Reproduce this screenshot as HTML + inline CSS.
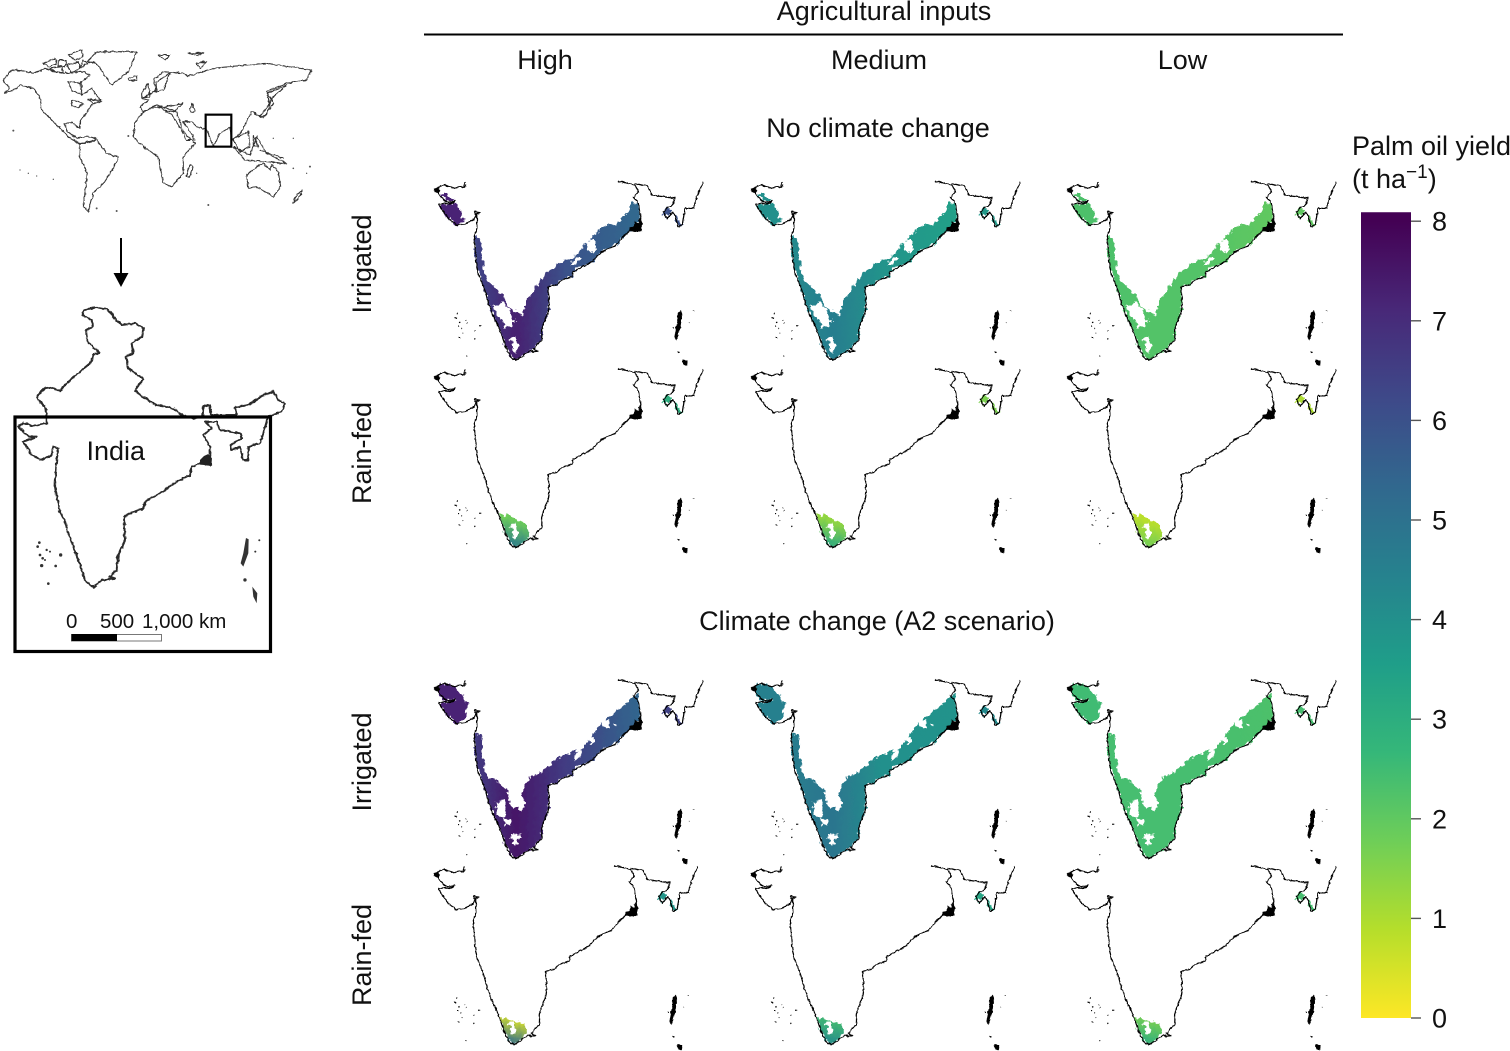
<!DOCTYPE html>
<html lang="en">
<head>
<meta charset="utf-8">
<title>Palm oil yield in India</title>
<style>
html,body{margin:0;padding:0;background:#fff;}
svg{display:block;font-family:"Liberation Sans",sans-serif;}
text{fill:#111;}
</style>
</head>
<body>
<svg id="fig" xmlns="http://www.w3.org/2000/svg" width="1510" height="1051" viewBox="0 0 1510 1051">
  <defs id="defs">
    <filter id="wiggle" x="-5%" y="-5%" width="110%" height="110%">
      <feTurbulence type="fractalNoise" baseFrequency="0.09" numOctaves="2" seed="4" result="n"/>
      <feDisplacementMap in="SourceGraphic" in2="n" scale="9" xChannelSelector="R" yChannelSelector="G" result="d"/>
      <feGaussianBlur in="d" stdDeviation="0.9"/>
    </filter>
    <filter id="rough" x="-5%" y="-5%" width="110%" height="110%">
      <feTurbulence type="fractalNoise" baseFrequency="0.07" numOctaves="3" seed="9" result="n"/>
      <feDisplacementMap in="SourceGraphic" in2="n" scale="22" xChannelSelector="R" yChannelSelector="G" result="d"/>
      <feGaussianBlur in="d" stdDeviation="1"/>
    </filter>
    <path id="coast" fill="none" stroke="#000" stroke-width="3.8" stroke-linejoin="round" d="M122,36 L118,52 L100,50 L88,55 L60,45 L45,48 L30,60 L40,70 L50,85 L70,97 L92,93 L75,102 L55,100 L42,103 L52,120 L70,145 L95,165 L120,162 L145,150 L152,135 L148,125 L165,128 L155,132 L157,170 L148,200 L150,240 L155,290 L165,325 L178,355 L190,400 L205,440 L225,480 L240,525 L255,558 L272,572 L295,555 L315,543 L338,545 L325,535 L350,510 L352,470 L368,430 L372,400 L370,350 L395,345 L410,330 L440,320 L445,305 L500,275 L530,245 L570,228 L590,205 L615,182 L650,180 L645,130 L640,100 L625,80 L640,65 L630,45 L580,33 M630,40 L670,50 L680,75 L750,85 L745,100 L715,125 L725,145 L745,125 L760,170 L772,165 L780,115 L805,115 L820,70 L835,35"/>
    <path id="islands" fill="#000" d="M38,52 L48,60 L40,70 L30,66 L26,58 Z M615,172 L625,170 L628,155 L640,158 L643,148 L652,160 L652,185 L615,184 Z M768,418 L771,440 L766,475 L754,512 L747,498 L756,460 L760,430 Z M770,570 L788,572 L786,590 L776,582 Z"/>
    <g id="atolls" fill="#000">
      <circle cx="92" cy="444" r="3"/><circle cx="97" cy="430" r="2"/><circle cx="104" cy="457" r="2.4"/><circle cx="100" cy="470" r="2.4"/><circle cx="122" cy="453" r="1.6"/><circle cx="128" cy="460" r="1.6"/><circle cx="110" cy="475" r="1.6"/><circle cx="115" cy="488" r="1.6"/><circle cx="150" cy="481" r="1.6"/><circle cx="165" cy="468" r="3"/><circle cx="103" cy="503" r="2.6"/><circle cx="148" cy="505" r="2"/><circle cx="125" cy="560" r="2"/><circle cx="805" cy="423" r="1.6"/><circle cx="793" cy="458" r="1.6"/><circle cx="745" cy="475" r="2"/><circle cx="760" cy="548" r="3"/>
    </g>
  </defs>

  <!-- Inset maps -->
  <g transform="translate(0,40) scale(0.3333)">
  <g fill="none" stroke="#333" stroke-width="3.2" stroke-linejoin="round" filter="url(#wiggle)">
    <path d="M10,122 L35,90 L65,92 L100,100 L135,85 L190,100 L250,95 L270,105 L240,130 L245,165 L275,145 L305,185 L275,195 L240,245 L240,265 L215,248 L195,250 L200,272 L230,295 L262,290 L290,295 L262,310 L238,312 L205,290 L165,250 L125,210 L120,170 L100,145 L60,135 L40,150 L12,160 L30,145 Z"/>
    <path d="M262,65 L290,35 L410,35 L385,95 L335,135 L310,100 L290,70 Z"/>
    <path d="M130,70 L165,55 L170,72 L145,80 Z M175,60 L200,60 L195,80 L175,78 Z M205,45 L245,30 L250,50 L225,60 Z M150,85 L185,80 L190,98 L160,95 Z M200,75 L235,65 L240,85 L215,100 Z M205,125 L245,130 L245,165 L215,150 Z M215,180 L250,190 L235,205 L215,195 Z M265,178 L305,180 L280,190 Z M250,60 L262,70 L240,85 Z"/>
    <path d="M240,310 L290,300 L320,340 L355,350 L340,385 L310,430 L280,460 L265,515 L250,500 L262,400 L238,350 Z"/>
    <path d="M425,220 L470,195 L530,215 L550,275 L585,310 L550,350 L550,400 L515,440 L490,430 L475,350 L430,320 L400,290 L405,250 Z"/>
    <path d="M425,175 L470,150 L460,120 L490,95 L550,100 L560,110 L640,85 L740,75 L800,70 L935,90 L920,120 L860,130 L800,155 L820,190 L790,235 L755,215 L725,275 L700,300 L720,335 L750,320 L745,275 L695,300 L690,262 L660,280 L640,320 L620,270 L590,260 L575,245 L550,245 L585,300 L560,300 L530,245 L510,220 L470,195 L430,215 L420,200 L445,180 Z"/>
    <path d="M445,205 L500,200 L550,190 L520,215 L490,210 M575,190 L585,215 L570,215 Z M470,125 L510,100 L490,150 L465,155 Z M475,45 L510,45 L495,60 Z M565,40 L612,38 L590,46 Z M590,70 L620,65 L600,85 Z"/>
    <path d="M800,160 L860,135 L815,175 L800,225 L780,230 L810,190 Z"/>
    <path d="M700,320 L735,360 L860,370 L800,340 L770,290 L750,345 Z M760,285 L775,320 L760,315 Z M780,330 L850,355"/>
    <path d="M740,405 L770,380 L790,370 L810,390 L815,375 L835,395 L842,440 L820,470 L770,440 L745,445 Z"/>
    <path d="M905,450 L888,470 L878,490 L900,470 Z"/>
    <path d="M570,375 L580,380 L570,412 L558,408 Z"/>
    <path d="M428,155 L445,130 L450,170 L425,172 Z M385,115 L410,108 L410,122 L390,122 Z"/>
  </g>
    <g stroke="none" fill="#555">
      <circle cx="60" cy="390" r="2"/><circle cx="85" cy="400" r="2"/><circle cx="110" cy="408" r="2"/><circle cx="160" cy="418" r="2"/><circle cx="820" cy="295" r="2"/><circle cx="880" cy="295" r="2"/><circle cx="880" cy="385" r="2.5"/><circle cx="930" cy="380" r="3"/><circle cx="920" cy="400" r="2"/><circle cx="625" cy="495" r="3"/><circle cx="350" cy="513" r="3"/><circle cx="290" cy="505" r="3"/><circle cx="590" cy="400" r="2"/><circle cx="40" cy="272" r="3"/><circle cx="385" cy="288" r="3"/>
    </g>
    <rect x="617" y="224" width="77" height="96" fill="none" stroke="#000" stroke-width="6.5"/>
  </g>
  <g>
    <line x1="121" y1="238" x2="121" y2="274" stroke="#000" stroke-width="2"/>
    <path d="M113.500,273 L128.500,273 L121,287 Z" fill="#000"/>
  </g>
  <g transform="translate(0,300) scale(0.3333)">
    <path filter="url(#wiggle)" fill="none" stroke="#2a2a2a" stroke-width="6" stroke-linejoin="round" d="M140,350 L135,320 L115,300 L112,285 L135,265 L150,262 L180,272 L200,250 L240,215 L270,190 L280,165 L298,158 L262,125 L258,90 L278,80 L275,60 L248,45 L252,30 L285,22 L325,30 L345,55 L365,75 L405,70 L432,85 L425,110 L395,130 L400,160 L378,170 L385,205 L430,238 L405,270 L420,285 L470,315 L520,325 L545,345 L580,355 L608,350 L610,320 L630,315 L633,345 L650,345 L710,345 L705,322 L745,315 L790,285 L820,275 L835,300 L855,310 L845,335 L805,350 L795,385 L780,430 L745,440 L745,480 L730,480 L720,440 L695,450 L692,435 L725,415 L720,400 L660,390 L650,365 L615,365 L635,385 L610,405 L630,440 L632,495 L600,490 L575,500 L570,525 L530,545 L480,580 L435,605 L430,625 L390,640 L372,650 L375,720 L355,765 L350,810 L330,830 L345,835 L305,840 L280,862 L255,840 L235,780 L205,700 L195,665 L178,630 L165,560 L170,480 L175,445 L160,440 L155,465 L125,480 L95,465 L70,425 L110,410 L85,410 L55,380 L70,368 L100,378 L140,370 L140,350 Z"/>
    <path fill="#222" d="M600,480 L612,468 L625,462 L636,475 L634,497 L600,494 Z"/>
    <path fill="#333" d="M738,714 L746,718 L745,760 L730,800 L722,790 L730,760 Z M757,860 L772,880 L770,910 L760,890 Z"/>
    <g fill="#333">
      <circle cx="118" cy="728" r="4"/><circle cx="113" cy="740" r="4"/><circle cx="120" cy="765" r="4"/><circle cx="140" cy="750" r="3.500"/><circle cx="150" cy="755" r="3"/><circle cx="128" cy="775" r="4"/><circle cx="135" cy="780" r="3"/><circle cx="182" cy="765" r="5"/><circle cx="125" cy="797" r="5"/><circle cx="167" cy="798" r="4"/><circle cx="145" cy="851" r="4"/><circle cx="778" cy="721" r="3"/><circle cx="766" cy="755" r="3"/><circle cx="735" cy="840" r="5"/>
    </g>
  </g>
  <rect x="15" y="417" width="255.500" height="234.500" fill="none" stroke="#000" stroke-width="3.200"/>
  <text x="86.500" y="460" font-size="27">India</text>
  <g>
    <text x="66" y="628" font-size="20.500">0</text>
    <text x="100" y="628" font-size="20.500">500</text>
    <text x="142" y="628" font-size="20.500">1,000 km</text>
    <rect x="71.500" y="634.500" width="90" height="6.500" fill="#fff" stroke="#777" stroke-width="1"/>
    <rect x="71.500" y="634" width="45.500" height="7" fill="#000"/>
  </g>

  <!-- Headers -->
  <text x="884" y="20" font-size="27" text-anchor="middle">Agricultural inputs</text>
  <line x1="424" y1="34.500" x2="1343" y2="34.500" stroke="#000" stroke-width="2"/>
  <text x="545" y="69" font-size="27" text-anchor="middle">High</text>
  <text x="879" y="69" font-size="27" text-anchor="middle">Medium</text>
  <text x="1182.500" y="69" font-size="27" text-anchor="middle">Low</text>
  <text x="878" y="137" font-size="27" text-anchor="middle">No climate change</text>
  <text x="877" y="630" font-size="27" text-anchor="middle">Climate change (A2 scenario)</text>
  <text transform="translate(371,264) rotate(-90)" font-size="27" text-anchor="middle">Irrigated</text>
  <text transform="translate(371,453) rotate(-90)" font-size="27" text-anchor="middle">Rain-fed</text>
  <text transform="translate(371,762) rotate(-90)" font-size="27" text-anchor="middle">Irrigated</text>
  <text transform="translate(371,955) rotate(-90)" font-size="27" text-anchor="middle">Rain-fed</text>

  <!-- Legend title -->
  <text x="1352" y="155" font-size="27">Palm oil yield</text>
  <text x="1352" y="188" font-size="27">(t ha<tspan font-size="19" dy="-10">−1</tspan><tspan dy="10">)</tspan></text>

  <g id="panels"></g>
  <g id="legend"></g>
</svg>
<script>
// Irrigated values: [west coast, south, mid east coast, north east coast, Gujarat, north-east]
const irrigatedNoClimate = [
  [6.3, 7.3, 6.0, 5.3, 7.2, 6.0],
  [4.2, 4.6, 3.9, 3.5, 4.0, 3.7],
  [2.3, 2.2, 2.2, 2.0, 2.3, 2.0]
];
const irrigatedClimate = [
  [6.6, 7.5, 6.6, 5.4, 7.2, 6.4],
  [4.6, 4.9, 4.0, 3.9, 4.5, 4.2],
  [2.4, 2.4, 2.4, 2.3, 2.5, 2.4]
];
// Rain-fed values: [inland edge, southern tip, north-east]
const rainfedNoClimate = [
  [1.8, 4.8, 3.0],
  [1.3, 3.2, 1.6],
  [0.8, 1.8, 1.0]
];
const rainfedClimate = [
  [0.4, 5.2, 3.8],
  [2.4, 4.2, 3.3],
  [1.6, 3.0, 2.4]
];
const legendTicks = [0, 1, 2, 3, 4, 5, 6, 7, 8];
const viridisStops = ['#440154','#482878','#3e4989','#31688e','#26828e','#1f9e89','#35b779','#6ece58','#b5de2b','#fde725'];

const NS = 'http://www.w3.org/2000/svg';
const yieldMax = 8.09;

function rgb(h){ return [1,3,5].map(function(i){ return parseInt(h.substr(i,2),16); }); }
function yieldColor(v){
  const t = Math.max(0, Math.min(1, 1 - v / 8));
  const p = t * (viridisStops.length - 1);
  const i = Math.min(viridisStops.length - 2, Math.floor(p));
  const a = rgb(viridisStops[i]), b = rgb(viridisStops[i + 1]), f = p - i;
  return 'rgb(' + a.map(function(c, k){ return Math.round(c + (b[k] - c) * f); }).join(',') + ')';
}
function legendY(v){ return 1018 - 99.6 * v; }
function mk(tag, attrs, parent){
  const el = document.createElementNS(NS, tag);
  Object.keys(attrs).forEach(function(k){ el.setAttribute(k, attrs[k]); });
  if (parent) parent.appendChild(el);
  return el;
}

const defs = document.getElementById('defs');
let gradId = 0;
function gradient(x1, y1, x2, y2, stops){
  const id = 'g' + (gradId++);
  const g = mk('linearGradient', {id: id, gradientUnits: 'userSpaceOnUse', x1: x1, y1: y1, x2: x2, y2: y2}, defs);
  stops.forEach(function(s){ mk('stop', {offset: s[0], 'stop-color': yieldColor(s[1])}, g); });
  return 'url(#' + id + ')';
}

const beltNoClimate = 'M148,200 L168,205 L170,260 L182,325 L235,378 L252,412 L290,437 L312,382 L350,328 L400,277 L442,264 L490,212 L530,172 L578,162 L625,100 L640,100 L645,155 L618,178 L590,205 L570,228 L530,245 L500,275 L445,305 L440,320 L410,330 L395,345 L370,350 L372,400 L368,430 L352,470 L350,510 L325,535 L295,555 L272,572 L255,558 L240,525 L225,480 L205,440 L190,400 L178,355 L165,325 L155,290 L150,240 Z';
const beltClimate = 'M148,198 L172,200 L170,260 L185,320 L240,355 L262,415 L290,428 L303,405 L288,375 L310,330 L350,310 L400,268 L470,240 L530,165 L610,100 L640,70 L640,100 L648,155 L618,178 L590,205 L570,228 L530,245 L500,275 L445,305 L440,320 L410,330 L395,345 L370,350 L372,400 L368,430 L352,470 L350,510 L325,535 L295,555 L272,572 L255,558 L240,525 L225,480 L205,440 L190,400 L178,355 L165,325 L155,290 L150,240 Z';
const holesNoClimate = 'M205,408 L232,398 L250,412 L255,430 L272,452 L260,470 L240,472 L222,440 Z M258,505 L272,500 L280,525 L272,555 L264,545 Z M432,285 L455,262 L470,262 L450,285 Z M485,212 L510,208 L510,250 L490,240 Z';
const holesClimate = 'M212,402 L240,395 L242,445 L222,448 Z M232,452 L265,450 L255,472 L240,470 Z M258,495 L288,497 L272,530 L262,525 Z M445,262 L470,230 L470,258 L450,278 Z M492,208 L510,205 L505,228 L495,228 Z M530,158 L552,155 L550,178 L538,175 Z M565,165 L575,165 L572,175 Z';
const gujaratNoClimate = 'M43,105 L75,100 L95,98 L118,155 L95,165 L70,145 L52,122 Z M48,72 L60,70 L92,92 L68,96 Z';
const gujaratClimate = 'M50,45 L92,55 L130,105 L118,152 L95,165 L70,145 L45,105 L92,95 L60,95 L35,65 Z';
const southRain = 'M220,462 L250,476 L300,496 L314,540 L295,555 L272,572 L255,558 L240,525 Z';
const southRainClimate = 'M228,490 L255,494 L300,505 L312,535 L295,555 L272,572 L255,558 L240,525 Z';
const holesRain = 'M258,500 L276,495 L277,525 L272,548 L264,540 Z';
const holesRainClimate = 'M258,503 L274,502 L274,535 L262,537 Z';
const neBits = 'M716,120 L730,112 L735,130 L725,145 L716,135 Z M748,135 L760,170 L770,165 L757,140 Z';

const rowDY = [0, 187.5, 498.5, 684.5];
const colDX = [0, 317, 633];
const rowKeys = ['irrigated-no-climate', 'rainfed-no-climate', 'irrigated-climate', 'rainfed-climate'];
const colKeys = ['high', 'medium', 'low'];
const panelsRoot = document.getElementById('panels');

rowKeys.forEach(function(rowKey, r){
  colKeys.forEach(function(colKey, c){
    const sx = (r === 3 && c < 2) ? 0.98 : 1;
    const g = mk('g', {transform: 'translate(' + (425 + colDX[c]) + ',' + (170 + rowDY[r]) + ') scale(' + (sx / 3) + ',0.3333)'}, panelsRoot);
    
    
    const fills = mk('g', {filter: 'url(#rough)'}, g);
    
    
    if (r === 0 || r === 2) {
      const vals = (r === 0 ? irrigatedNoClimate : irrigatedClimate)[c];
      const belt = mk('path', {d: r === 0 ? beltNoClimate : beltClimate, fill: gradient(150, 0, 640, 0, [[0, vals[0]], [0.25, vals[1]], [0.55, vals[2]], [1, vals[3]]])}, fills);
      
      
      const holes = mk('path', {d: r === 0 ? holesNoClimate : holesClimate, fill: '#fff'}, fills);
      
      
      const guj = mk('path', {d: r === 0 ? gujaratNoClimate : gujaratClimate, fill: yieldColor(vals[4])}, fills);
      
      
      const ne = mk('path', {d: neBits, fill: yieldColor(vals[5])}, fills);
      
      
    } else {
      const vals = (r === 1 ? rainfedNoClimate : rainfedClimate)[c];
      const area = mk('path', {d: r === 1 ? southRain : southRainClimate, fill: gradient(285, 490, 260, 570, [[0, vals[0]], [1, vals[1]]])}, fills);
      
      
      const holes = mk('path', {d: r === 1 ? holesRain : holesRainClimate, fill: '#fff'}, fills);
      
      
      const ne = mk('path', {d: neBits, fill: yieldColor(vals[2])}, fills);
      
      
    }
    const lines = mk('g', {filter: 'url(#wiggle)'}, g);
    
    
    const coast = mk('use', {href: '#coast'}, lines);
    
    
    const isl = mk('use', {href: '#islands'}, lines);
    
    
    const atolls = mk('use', {href: '#atolls'}, lines);
    
    
  });
});

const legendRoot = document.getElementById('legend');
const bar = mk('rect', {x: 1361, y: legendY(yieldMax), width: 50, height: legendY(0) - legendY(yieldMax), fill: gradient(0, legendY(8), 0, legendY(0), viridisStops.map(function(_, i){
  const f = i / (viridisStops.length - 1);
  return [f, 8 * (1 - f)];
}))}, legendRoot);


legendTicks.forEach(function(v){
  const tick = mk('line', {x1: 1411, x2: 1421, y1: legendY(v), y2: legendY(v), stroke: '#555', 'stroke-width': 1.4}, legendRoot);
  
  
  const label = mk('text', {x: 1432, y: legendY(v) + 9.5, 'font-size': 27}, legendRoot);
  
  
  label.textContent = String(v);
});
</script>
</body>
</html>
